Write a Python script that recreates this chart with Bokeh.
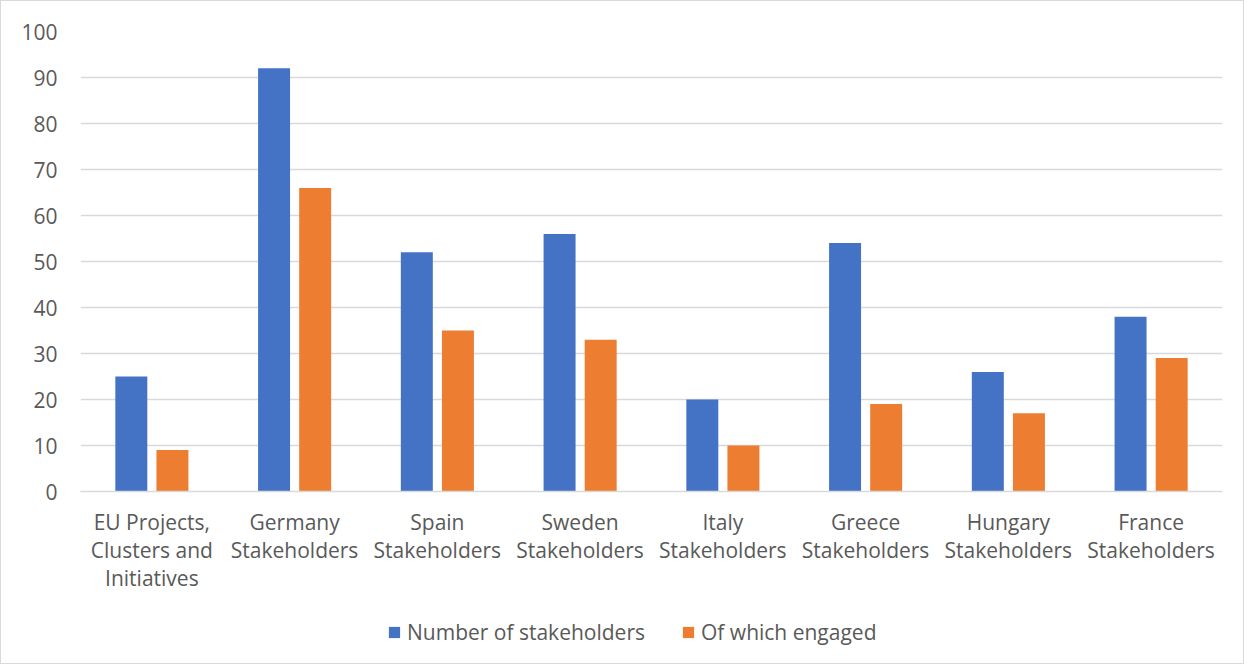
from bokeh.plotting import figure
from bokeh.models import ColumnDataSource, FixedTicker, Legend, LegendItem, Range1d
from bokeh.layouts import column
from bokeh.embed import file_html
from bokeh.resources import INLINE

categories = ["EU Projects,\nClusters and\nInitiatives", "Germany\nStakeholders", "Spain\nStakeholders",
              "Sweden\nStakeholders", "Italy\nStakeholders", "Greece\nStakeholders",
              "Hungary\nStakeholders", "France\nStakeholders"]
number_of_stakeholders = [25, 92, 52, 56, 20, 54, 26, 38]
of_which_engaged = [9, 66, 35, 33, 10, 19, 17, 29]
series_names = ["Number of stakeholders", "Of which engaged"]
y_ticks = [0, 10, 20, 30, 40, 50, 60, 70, 80, 90, 100]

centers = [i + 0.5 for i in range(len(categories))]
src = ColumnDataSource(dict(
    xb=[c - 0.144 for c in centers],
    xo=[c + 0.144 for c in centers],
    n=number_of_stakeholders,
    e=of_which_engaged,
))

FONT = "Open Sans"
TXT = "#595959"
GRID = "#d9d9d9"
FS = "21px"
BLUE = "#4472C4"
ORANGE = "#ED7D31"

p = figure(width=1242, height=600, output_backend="svg", toolbar_location=None,
           x_range=Range1d(0, len(categories)), y_range=Range1d(0, 100),
           min_border_left=79, min_border_top=30, min_border_right=21, min_border_bottom=110)
p.outline_line_color = None

p.vbar(x="xb", top="n", width=0.224, source=src, fill_color=BLUE, line_color=None)
p.vbar(x="xo", top="e", width=0.224, source=src, fill_color=ORANGE, line_color=None)

p.xgrid.visible = False
p.ygrid.grid_line_color = GRID
p.ygrid.grid_line_width = 1.3

p.yaxis.ticker = FixedTicker(ticks=y_ticks)
p.yaxis.axis_line_color = None
p.yaxis.major_tick_line_color = None
p.yaxis.major_tick_out = 0
p.yaxis.minor_tick_line_color = None
p.yaxis.major_label_text_font = FONT
p.yaxis.major_label_text_font_size = FS
p.yaxis.major_label_text_color = TXT
p.yaxis.major_label_standoff = 23

p.xaxis.ticker = FixedTicker(ticks=centers)
p.xaxis.major_label_overrides = {c: lab for c, lab in zip(centers, categories)}
p.xaxis.axis_line_color = GRID
p.xaxis.axis_line_width = 1.3
p.xaxis.major_tick_line_color = None
p.xaxis.major_tick_out = 0
p.xaxis.minor_tick_line_color = None
p.xaxis.major_label_text_font = FONT
p.xaxis.major_label_text_font_size = FS
p.xaxis.major_label_text_color = TXT
p.xaxis.major_label_text_line_height = 1.0
p.xaxis.major_label_standoff = 16

# legend strip (renderers only supply the legend swatches; their points lie outside the view)
lg = figure(width=1242, height=62, output_backend="svg", toolbar_location=None,
            x_range=Range1d(0, 1), y_range=Range1d(0, 1),
            min_border=0, x_axis_type=None, y_axis_type=None)
lg.outline_line_color = None
lg.xgrid.visible = False
lg.ygrid.visible = False
swatch = ColumnDataSource(dict(x=[-10], top=[-10]))
lb = lg.vbar(x="x", top="top", width=0.1, source=swatch, fill_color=BLUE, line_color=None)
lo = lg.vbar(x="x", top="top", width=0.1, source=swatch, fill_color=ORANGE, line_color=None)
legend = Legend(items=[LegendItem(label=series_names[0], renderers=[lb]),
                       LegendItem(label=series_names[1], renderers=[lo])],
                orientation="horizontal", location=(307, 17),
                label_text_font=FONT, label_text_font_size=FS, label_text_color=TXT,
                glyph_width=14, glyph_height=14, label_standoff=6, spacing=36,
                border_line_color=None, background_fill_alpha=0, padding=4, margin=0)
lg.add_layout(legend, "center")

layout = column(p, lg, spacing=0, styles={"border": "1px solid #d9d9d9"})

open("out.html", "w").write(file_html(layout, INLINE))
